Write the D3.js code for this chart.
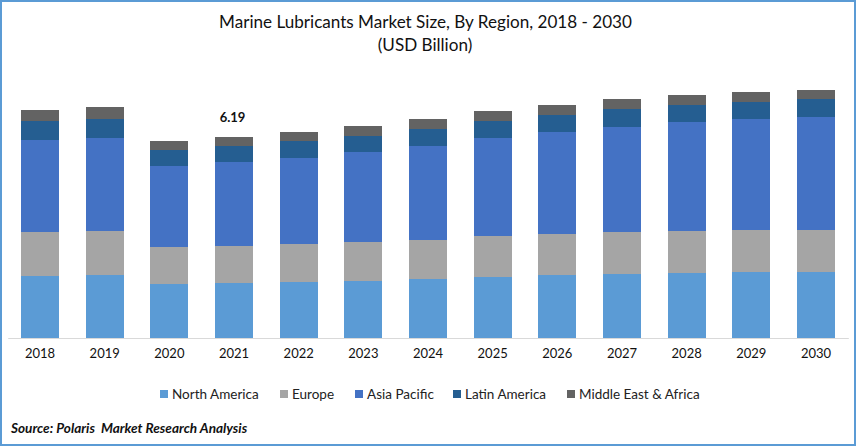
<!DOCTYPE html>
<html>
<head>
<meta charset="utf-8">
<script src="https://cdn.jsdelivr.net/npm/d3@7"></script>
<style>
  html, body { margin: 0; padding: 0; background: #fff; }
  svg { display: block; font-family: Lato, "Open Sans", sans-serif; }
</style>
</head>
<body>
<div id="chart"></div>
<script>
// data (USD billion)
const years = [2018, 2019, 2020, 2021, 2022, 2023, 2024, 2025, 2026, 2027, 2028, 2029, 2030];
const regions = ["North America", "Europe", "Asia Pacific", "Latin America", "Middle East & Africa"];
const northAmerica = [1.91, 1.94, 1.66, 1.69, 1.72, 1.76, 1.82, 1.88, 1.94, 1.97, 2.00, 2.03, 2.03];
const europe = [1.36, 1.36, 1.14, 1.14, 1.17, 1.20, 1.20, 1.26, 1.26, 1.29, 1.29, 1.29, 1.29];
const asiaPacific = [2.83, 2.86, 2.49, 2.59, 2.65, 2.77, 2.89, 3.02, 3.14, 3.23, 3.36, 3.42, 3.48];
const latinAmerica = [0.59, 0.59, 0.49, 0.49, 0.52, 0.49, 0.52, 0.52, 0.52, 0.55, 0.52, 0.52, 0.55];
const middleEastAfrica = [0.34, 0.37, 0.28, 0.28, 0.28, 0.31, 0.31, 0.31, 0.31, 0.31, 0.31, 0.31, 0.28];
const colors = ["#5b9bd5", "#a5a5a5", "#4472c4", "#255e91", "#636363"];
const labelYear = 2021, labelText = "6.19";

const width = 856, height = 446;
const series = [northAmerica, europe, asiaPacific, latinAmerica, middleEastAfrica];
const rows = years.map((year, i) => {
  const row = {year: year};
  regions.forEach((r, j) => { row[r] = series[j][i]; });
  return row;
});

const svg = d3.select("#chart")
  .append("svg")
    .attr("width", width)
    .attr("height", height);

// outer frame
svg.append("rect")
  .attr("x", 1).attr("y", 1)
  .attr("width", width - 2).attr("height", height - 2)
  .attr("fill", "#fff")
  .attr("stroke", colors[0])
  .attr("stroke-width", 2);

// title
svg.append("text")
  .attr("x", 425.5).attr("y", 28)
  .attr("text-anchor", "middle")
  .attr("font-size", 17.1)
  .attr("fill", "#111")
  .text("Marine Lubricants Market Size, By Region, 2018 - 2030");
svg.append("text")
  .attr("x", 425).attr("y", 51)
  .attr("text-anchor", "middle")
  .attr("font-size", 17.1)
  .attr("fill", "#111")
  .text("(USD Billion)");

// scales
const x = d3.scaleBand()
  .domain(years)
  .range([7.7, 848.3])
  .paddingInner(0.412)
  .paddingOuter(0.206);

const y = d3.scaleLinear()
  .domain([0, 7.5])
  .range([338, 94.5]);

// stacked bars
const stacked = d3.stack().keys(regions)(rows);

svg.append("g")
  .selectAll("g")
  .data(stacked)
  .join("g")
    .attr("fill", (d, i) => colors[i])
  .selectAll("rect")
  .data(d => d)
  .join("rect")
    .attr("x", d => x(d.data.year))
    .attr("y", d => y(d[1]))
    .attr("width", x.bandwidth())
    .attr("height", d => y(d[0]) - y(d[1]))
    .attr("shape-rendering", "crispEdges");

// X axis
const xAxis = svg.append("g")
  .attr("transform", `translate(0, ${y(0)})`)
  .call(d3.axisBottom(x).tickSize(0).tickPadding(11));
xAxis.select(".domain").attr("stroke", "#d9d9d9").attr("stroke-width", 1);
xAxis.selectAll("text")
  .attr("font-family", "Lato, 'Open Sans', sans-serif")
  .attr("font-size", 13)
  .attr("fill", "#111");

// the one labelled total
svg.append("text")
  .attr("x", x(labelYear) + x.bandwidth() / 2 - 1.5)
  .attr("y", 122)
  .attr("text-anchor", "middle")
  .attr("font-size", 13)
  .attr("font-weight", "bold")
  .attr("fill", "#111")
  .text(labelText);

// legend
const legendX = [160, 280, 355, 453, 567];
const legend = svg.append("g")
  .selectAll("g")
  .data(regions)
  .join("g")
    .attr("transform", (d, i) => `translate(${legendX[i]}, 390)`);
legend.append("rect")
  .attr("width", 8).attr("height", 8)
  .attr("fill", (d, i) => colors[i]);
legend.append("text")
  .attr("x", 12).attr("y", 9)
  .attr("font-size", 13.5)
  .attr("fill", "#222")
  .text(d => d);

// source
svg.append("text")
  .attr("x", 11).attr("y", 433)
  .attr("font-size", 13.6)
  .attr("font-weight", "bold")
  .attr("font-style", "italic")
  .attr("fill", "#111")
  .attr("xml:space", "preserve")
  .text("Source: Polaris  Market Research Analysis");
</script>
</body>
</html>
